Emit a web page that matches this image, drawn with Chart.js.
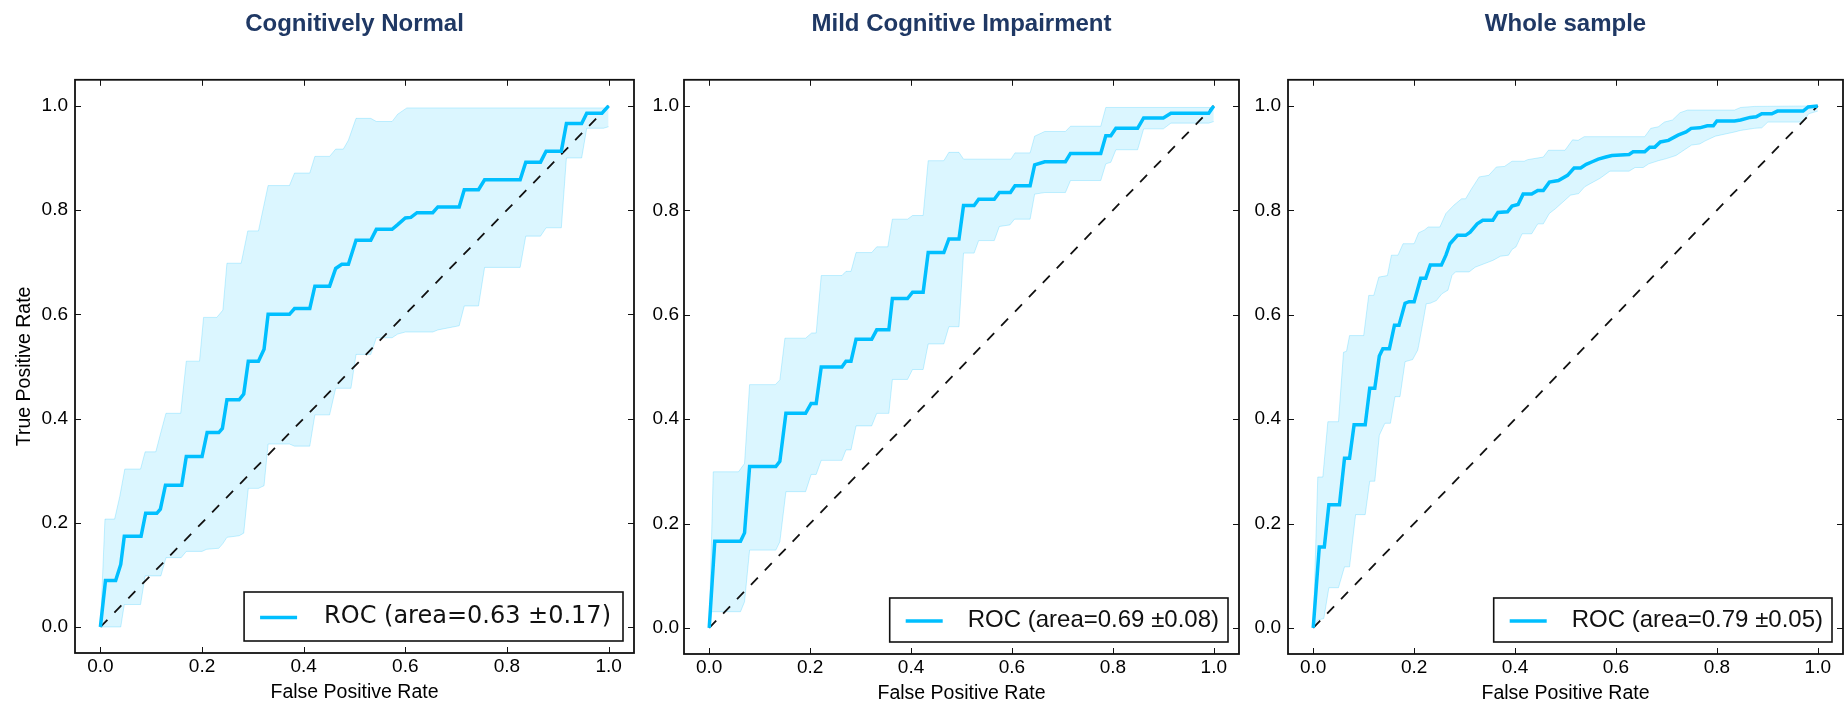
<!DOCTYPE html>
<html>
<head>
<meta charset="utf-8">
<script src="https://cdn.jsdelivr.net/npm/chart.js@4.4.1/dist/chart.umd.min.js"></script>
<style>
  html, body { margin: 0; padding: 0; background: #fff; overflow: hidden; }
  #wrap { position: relative; width: 1844px; height: 708px; }
  canvas { position: absolute; top: 0; }
</style>
</head>
<body>
<div id="wrap">
  <canvas id="cn" width="640" height="708" style="left:0px"></canvas>
  <canvas id="mci" width="605" height="708" style="left:640px"></canvas>
  <canvas id="ws" width="599" height="708" style="left:1245px"></canvas>
</div>
<script>
// axis ticks
var fprTicks = [0.0, 0.2, 0.4, 0.6, 0.8, 1.0];
var tprTicks = [0.0, 0.2, 0.4, 0.6, 0.8, 1.0];
var titles = ["Cognitively Normal", "Mild Cognitive Impairment", "Whole sample"];
var rocLabels = ["ROC (area=0.63 \u00B10.17)", "ROC (area=0.69 \u00B10.08)", "ROC (area=0.79 \u00B10.05)"];
var chanceLine = [[0, 0], [1, 1]];

// Cognitively Normal: mean ROC and +/- 1 std band  [fpr, tpr]
var cnMean = [[0,0],[0.01,0.089],[0.03,0.089],[0.04,0.12],[0.047,0.174],[0.08,0.174],[0.089,0.218],[0.111,0.218],[0.118,0.226],[0.128,0.272],[0.16,0.272],[0.169,0.327],[0.2,0.327],[0.21,0.373],[0.233,0.373],[0.24,0.381],[0.249,0.436],[0.273,0.436],[0.282,0.447],[0.291,0.51],[0.311,0.51],[0.322,0.533],[0.33,0.6],[0.372,0.6],[0.382,0.611],[0.412,0.611],[0.422,0.654],[0.451,0.654],[0.463,0.688],[0.475,0.696],[0.488,0.696],[0.503,0.742],[0.532,0.742],[0.543,0.763],[0.574,0.763],[0.585,0.772],[0.6,0.785],[0.611,0.786],[0.623,0.795],[0.654,0.795],[0.664,0.806],[0.706,0.806],[0.716,0.839],[0.744,0.839],[0.756,0.858],[0.826,0.858],[0.837,0.892],[0.866,0.892],[0.877,0.913],[0.907,0.913],[0.917,0.966],[0.947,0.966],[0.957,0.986],[0.987,0.986],[1,1]];
var cnUpper = [[0,0],[0.009,0.207],[0.028,0.207],[0.038,0.25],[0.048,0.303],[0.079,0.303],[0.088,0.336],[0.109,0.336],[0.118,0.37],[0.129,0.41],[0.158,0.41],[0.169,0.51],[0.195,0.51],[0.203,0.594],[0.229,0.594],[0.241,0.608],[0.249,0.698],[0.277,0.698],[0.29,0.76],[0.311,0.76],[0.33,0.847],[0.372,0.847],[0.382,0.871],[0.412,0.871],[0.422,0.903],[0.451,0.903],[0.463,0.917],[0.478,0.917],[0.488,0.934],[0.503,0.976],[0.532,0.976],[0.543,0.97],[0.574,0.97],[0.585,0.984],[0.603,0.996],[1,0.996]];
var cnLower = [[0,0],[0.04,0],[0.047,0.043],[0.079,0.043],[0.088,0.098],[0.119,0.098],[0.129,0.133],[0.159,0.133],[0.169,0.145],[0.2,0.145],[0.209,0.149],[0.233,0.151],[0.241,0.16],[0.249,0.172],[0.273,0.175],[0.282,0.18],[0.291,0.266],[0.311,0.266],[0.322,0.271],[0.33,0.351],[0.372,0.351],[0.382,0.347],[0.412,0.347],[0.422,0.407],[0.451,0.407],[0.463,0.458],[0.493,0.458],[0.503,0.523],[0.532,0.523],[0.543,0.555],[0.574,0.555],[0.585,0.562],[0.6,0.566],[0.654,0.566],[0.664,0.57],[0.706,0.578],[0.716,0.616],[0.744,0.616],[0.756,0.69],[0.826,0.69],[0.837,0.75],[0.866,0.75],[0.877,0.766],[0.907,0.766],[0.917,0.9],[0.947,0.9],[0.957,0.957],[0.99,0.957],[1,0.96]];

// Mild Cognitive Impairment
var mciMean = [[0,0],[0.011,0.166],[0.062,0.166],[0.07,0.182],[0.08,0.309],[0.132,0.309],[0.14,0.319],[0.152,0.411],[0.191,0.411],[0.202,0.43],[0.212,0.43],[0.222,0.5],[0.263,0.5],[0.271,0.511],[0.281,0.511],[0.291,0.553],[0.322,0.553],[0.332,0.571],[0.356,0.571],[0.363,0.631],[0.393,0.631],[0.403,0.643],[0.424,0.643],[0.434,0.719],[0.465,0.719],[0.475,0.745],[0.495,0.745],[0.504,0.809],[0.525,0.809],[0.534,0.821],[0.565,0.821],[0.575,0.834],[0.597,0.834],[0.606,0.847],[0.636,0.847],[0.645,0.887],[0.665,0.893],[0.706,0.893],[0.716,0.909],[0.776,0.909],[0.786,0.943],[0.796,0.943],[0.806,0.957],[0.849,0.957],[0.861,0.977],[0.9,0.977],[0.915,0.986],[0.99,0.986],[1,1]];
var mciUpper = [[0,0],[0.008,0.299],[0.058,0.299],[0.07,0.315],[0.08,0.466],[0.131,0.466],[0.14,0.475],[0.15,0.555],[0.191,0.555],[0.203,0.565],[0.212,0.565],[0.222,0.675],[0.263,0.675],[0.271,0.683],[0.281,0.683],[0.291,0.719],[0.322,0.719],[0.332,0.73],[0.354,0.73],[0.363,0.783],[0.393,0.783],[0.403,0.79],[0.424,0.79],[0.434,0.895],[0.465,0.895],[0.475,0.911],[0.495,0.911],[0.504,0.898],[0.598,0.898],[0.606,0.91],[0.636,0.91],[0.645,0.942],[0.665,0.951],[0.706,0.951],[0.716,0.961],[0.776,0.961],[0.786,0.997],[1,0.997]];
var mciLower = [[0,0],[0.005,0.031],[0.062,0.031],[0.07,0.05],[0.08,0.149],[0.132,0.149],[0.14,0.165],[0.152,0.261],[0.191,0.261],[0.202,0.294],[0.212,0.294],[0.222,0.321],[0.263,0.321],[0.271,0.341],[0.281,0.341],[0.291,0.387],[0.322,0.387],[0.332,0.411],[0.356,0.411],[0.363,0.476],[0.393,0.476],[0.403,0.495],[0.424,0.495],[0.434,0.544],[0.465,0.544],[0.475,0.577],[0.495,0.577],[0.504,0.718],[0.525,0.718],[0.534,0.742],[0.565,0.742],[0.575,0.769],[0.596,0.772],[0.605,0.783],[0.636,0.783],[0.645,0.831],[0.665,0.834],[0.706,0.834],[0.716,0.857],[0.776,0.857],[0.786,0.889],[0.796,0.892],[0.806,0.916],[0.849,0.916],[0.861,0.956],[0.9,0.956],[0.915,0.967],[0.99,0.967],[1,0.97]];

// Whole sample
var wsMean = [[0,0],[0.012,0.155],[0.022,0.155],[0.031,0.236],[0.052,0.236],[0.062,0.325],[0.072,0.325],[0.081,0.389],[0.103,0.389],[0.112,0.459],[0.122,0.459],[0.131,0.521],[0.138,0.535],[0.151,0.535],[0.161,0.58],[0.17,0.58],[0.182,0.622],[0.19,0.625],[0.2,0.625],[0.213,0.67],[0.223,0.67],[0.232,0.695],[0.254,0.695],[0.263,0.714],[0.271,0.736],[0.286,0.752],[0.302,0.752],[0.311,0.758],[0.325,0.774],[0.336,0.781],[0.356,0.781],[0.366,0.796],[0.385,0.797],[0.394,0.808],[0.406,0.811],[0.416,0.831],[0.433,0.831],[0.445,0.838],[0.456,0.838],[0.468,0.854],[0.486,0.857],[0.504,0.867],[0.517,0.881],[0.53,0.881],[0.541,0.888],[0.553,0.893],[0.565,0.898],[0.58,0.902],[0.592,0.905],[0.626,0.907],[0.634,0.912],[0.657,0.912],[0.667,0.921],[0.677,0.921],[0.688,0.931],[0.704,0.934],[0.723,0.944],[0.739,0.95],[0.749,0.957],[0.766,0.958],[0.781,0.962],[0.793,0.962],[0.8,0.971],[0.835,0.971],[0.847,0.973],[0.866,0.978],[0.878,0.979],[0.889,0.985],[0.909,0.985],[0.92,0.99],[0.971,0.99],[0.981,0.998],[1,1]];
var wsUpper = [[0,0],[0.009,0.289],[0.019,0.289],[0.029,0.395],[0.05,0.395],[0.06,0.528],[0.066,0.53],[0.072,0.56],[0.1,0.56],[0.11,0.637],[0.12,0.637],[0.13,0.672],[0.147,0.675],[0.155,0.714],[0.168,0.714],[0.178,0.736],[0.2,0.736],[0.209,0.757],[0.22,0.762],[0.228,0.768],[0.251,0.768],[0.263,0.794],[0.279,0.81],[0.294,0.822],[0.302,0.822],[0.313,0.84],[0.329,0.864],[0.348,0.867],[0.363,0.883],[0.379,0.884],[0.394,0.894],[0.418,0.894],[0.425,0.897],[0.456,0.902],[0.466,0.915],[0.499,0.915],[0.514,0.935],[0.525,0.934],[0.537,0.941],[0.657,0.941],[0.669,0.957],[0.684,0.96],[0.696,0.969],[0.712,0.973],[0.727,0.987],[0.742,0.992],[0.835,0.992],[0.847,0.997],[0.874,0.999],[1,1]];
var wsLower = [[0,0],[0.009,0.015],[0.021,0.018],[0.031,0.077],[0.05,0.077],[0.062,0.117],[0.072,0.117],[0.084,0.217],[0.103,0.217],[0.112,0.281],[0.122,0.281],[0.131,0.369],[0.142,0.392],[0.153,0.392],[0.162,0.443],[0.172,0.443],[0.182,0.51],[0.197,0.514],[0.207,0.532],[0.209,0.541],[0.217,0.583],[0.224,0.621],[0.232,0.622],[0.244,0.627],[0.255,0.64],[0.267,0.647],[0.275,0.675],[0.282,0.682],[0.309,0.682],[0.321,0.691],[0.34,0.698],[0.356,0.704],[0.371,0.712],[0.387,0.714],[0.394,0.725],[0.402,0.73],[0.414,0.755],[0.433,0.755],[0.445,0.774],[0.456,0.774],[0.468,0.794],[0.48,0.803],[0.495,0.816],[0.51,0.829],[0.526,0.832],[0.538,0.845],[0.549,0.851],[0.568,0.861],[0.588,0.875],[0.626,0.875],[0.638,0.882],[0.654,0.882],[0.665,0.889],[0.684,0.895],[0.7,0.899],[0.719,0.905],[0.739,0.918],[0.75,0.925],[0.766,0.927],[0.777,0.933],[0.797,0.942],[0.835,0.95],[0.847,0.953],[0.874,0.957],[0.889,0.958],[0.901,0.969],[0.971,0.969],[0.982,0.985],[1,0.99]];

Chart.defaults.font.family = "'Liberation Sans', Arial, sans-serif";
Chart.defaults.color = "#000";

function toPts(arr) {
  return arr.map(function (p) { return { x: p[0], y: p[1] }; });
}

// box around the plot with inward ticks on all four sides
var framePlugin = {
  id: "frame",
  afterDraw: function (chart) {
    var ctx = chart.ctx, a = chart.chartArea;
    var xs = chart.scales.x, ys = chart.scales.y;
    var tl = 6;
    ctx.save();
    ctx.strokeStyle = "#111";
    ctx.lineWidth = 1;
    ctx.beginPath();
    xs.ticks.forEach(function (t) {
      var px = Math.round(xs.getPixelForValue(t.value)) + 0.5;
      ctx.moveTo(px, a.top); ctx.lineTo(px, a.top + tl);
      ctx.moveTo(px, a.bottom); ctx.lineTo(px, a.bottom - tl);
    });
    ys.ticks.forEach(function (t) {
      var py = Math.round(ys.getPixelForValue(t.value)) + 0.5;
      ctx.moveTo(a.left, py); ctx.lineTo(a.left + tl, py);
      ctx.moveTo(a.right, py); ctx.lineTo(a.right - tl, py);
    });
    ctx.stroke();
    ctx.lineWidth = 1.8;
    ctx.strokeRect(a.left, a.top, a.right - a.left, a.bottom - a.top);
    ctx.restore();
  }
};

// matplotlib-like legend box in the lower right corner
var rocLegend = {
  id: "rocLegend",
  afterDraw: function (chart, args, o) {
    var ds = chart.data.datasets[0];
    var ctx = chart.ctx, a = chart.chartArea;
    ctx.save();
    ctx.font = o.font;
    var tw = ctx.measureText(ds.label).width;
    var w = o.padLeft + o.sample + o.gap + tw + o.padRight;
    var h = o.height;
    var bx = a.right - o.right - w, by = a.bottom - o.bottom - h;
    ctx.fillStyle = "#fff";
    ctx.fillRect(bx, by, w, h);
    ctx.strokeStyle = "#111";
    ctx.lineWidth = 1.6;
    ctx.strokeRect(bx, by, w, h);
    ctx.strokeStyle = ds.borderColor;
    ctx.lineWidth = ds.borderWidth;
    ctx.beginPath();
    ctx.moveTo(bx + o.padLeft, by + h / 2 + 1);
    ctx.lineTo(bx + o.padLeft + o.sample, by + h / 2 + 1);
    ctx.stroke();
    ctx.fillStyle = "#111";
    ctx.textBaseline = "middle";
    ctx.fillText(ds.label, bx + o.padLeft + o.sample + o.gap, by + h / 2);
    ctx.restore();
  }
};

function makeChart(id, i, mean, upper, lower, cfg) {
  return new Chart(document.getElementById(id), {
    type: "line",
    data: {
      datasets: [
        { label: rocLabels[i], data: toPts(mean), borderColor: "#00bfff", borderWidth: 3.5,
          pointRadius: 0, fill: false, tension: 0 },
        { label: "chance", data: toPts(chanceLine), borderColor: "#111", borderWidth: 1.8,
          borderDash: [10, 10], pointRadius: 0, fill: false },
        { label: "upper", data: toPts(upper), borderColor: "rgba(0,191,255,0.22)", borderWidth: 1,
          pointRadius: 0, fill: false },
        { label: "lower", data: toPts(lower), borderColor: "rgba(0,191,255,0.22)", borderWidth: 1,
          backgroundColor: "rgba(0,191,255,0.14)", pointRadius: 0, fill: "-1" }
      ]
    },
    options: {
      responsive: false,
      animation: false,
      events: [],
      layout: { padding: { left: 0, right: cfg.padRight, top: 0, bottom: cfg.padBottom } },
      plugins: {
        legend: { display: false },
        tooltip: { enabled: false },
        title: {
          display: true, text: titles[i], color: "#1f3864", fullSize: false,
          font: { size: 24, weight: "bold" }, padding: { top: 10, bottom: 41 }
        },
        rocLegend: cfg.legend
      },
      scales: {
        x: {
          type: "linear", min: -0.05, max: 1.05,
          afterBuildTicks: function (s) { s.ticks = fprTicks.map(function (v) { return { value: v }; }); },
          afterFit: function (s) { s.height = 51; },
          grid: { display: false, drawTicks: false },
          border: { display: false },
          ticks: { padding: 2, maxRotation: 0, autoSkip: false, font: { size: 19 },
            callback: function (v) { return v.toFixed(1); } },
          title: { display: true, text: "False Positive Rate", font: { size: 19.5 }, padding: 0 }
        },
        y: {
          type: "linear", min: -0.05, max: 1.05,
          afterBuildTicks: function (s) { s.ticks = tprTicks.map(function (v) { return { value: v }; }); },
          afterFit: function (s) { s.width = cfg.yw; },
          grid: { display: false, drawTicks: false },
          border: { display: false },
          ticks: { padding: cfg.ypad, autoSkip: false, font: { size: 19 },
            callback: function (v) { return v.toFixed(1); } },
          title: { display: i === 0, text: "True Positive Rate", font: { size: 19.5 }, padding: { top: 13 } }
        }
      }
    },
    plugins: [framePlugin, rocLegend]
  });
}

var bigLegend = { font: "24px 'DejaVu Sans'", padLeft: 16, sample: 37, gap: 27, padRight: 12, height: 49, right: 11, bottom: 12 };
var smallLegend = { font: "24px 'Liberation Sans'", padLeft: 16, sample: 37, gap: 25, padRight: 9, height: 44, right: 11, bottom: 12 };

makeChart("cn", 0, cnMean, cnUpper, cnLower, { padRight: 6, padBottom: 4, yw: 75, ypad: 7, legend: bigLegend });
makeChart("mci", 1, mciMean, mciUpper, mciLower, { padRight: 6, padBottom: 3, yw: 44, ypad: 5, legend: smallLegend });
makeChart("ws", 2, wsMean, wsUpper, wsLower, { padRight: 1, padBottom: 3, yw: 43, ypad: 7, legend: smallLegend });
</script>
</body>
</html>
